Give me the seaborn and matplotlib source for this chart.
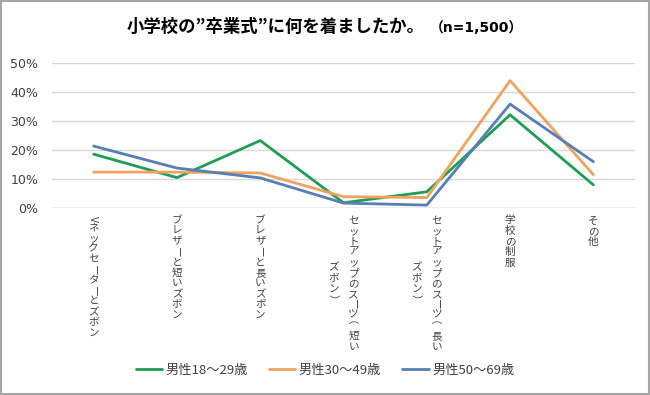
import textwrap
import numpy as np
import pandas as pd
import matplotlib
matplotlib.use("Agg")
import matplotlib.pyplot as plt
from matplotlib.patches import Rectangle
import seaborn as sns

# ---------------- data ----------------
categories = [
    "Vネックセーターとズボン",
    "ブレザーと短いズボン",
    "ブレザーと長いズボン",
    "セットアップのスーツ（短いズボン）",
    "セットアップのスーツ（長いズボン）",
    "学校の制服",
    "その他",
]
series_names = ["男性18～29歳", "男性30～49歳", "男性50～69歳"]
male_18_29 = [18.6, 10.5, 23.3, 1.8, 5.6, 32.2, 8.0]
male_30_49 = [12.4, 12.4, 12.1, 3.9, 3.6, 44.0, 11.5]
male_50_69 = [21.4, 13.8, 10.4, 1.7, 1.0, 35.9, 16.0]
y_ticks = [0, 10, 20, 30, 40, 50]
y_tick_labels = ["0%", "10%", "20%", "30%", "40%", "50%"]
title_main = "小学校の”卒業式”に何を着ましたか。"
title_sub = "（n=1,500）"

colors = ["#1E9E52", "#F0A25E", "#5580B6"]
FONTS = ["Noto Sans CJK JP", "DejaVu Sans"]
LATIN_FIRST = ["DejaVu Sans", "Noto Sans CJK JP"]

rows = []
for name, vals in zip(series_names, [male_18_29, male_30_49, male_50_69]):
    for c, v in zip(categories, vals):
        rows.append({"category": c, "value": v, "series": name})
df = pd.DataFrame(rows)

# ---------------- figure ----------------
sns.set_theme(style="white")
plt.rcParams["font.family"] = FONTS

fig = plt.figure(figsize=(6.5, 3.95), dpi=100)
W, H = 650, 395
ax = fig.add_axes([52 / W, 1 - 208 / H, (635 - 52) / W, (208 - 63.3) / H])

sns.lineplot(data=df, x="category", y="value", hue="series",
             hue_order=series_names, palette=colors, linewidth=2.0,
             sort=False, ax=ax, legend=True)

ax.set_ylim(0, 50)
ax.set_xlim(-0.5, len(categories) - 0.5)
ax.set_yticks(y_ticks)
ax.set_yticklabels(y_tick_labels, fontsize=9, color="#404040", family=LATIN_FIRST)
ax.set_xticks(range(len(categories)))
ax.set_xticklabels([])
ax.tick_params(axis="both", length=0)
ax.tick_params(axis="y", pad=10)
ax.set_xlabel("")
ax.set_ylabel("")
for s in ax.spines.values():
    s.set_visible(False)
ax.grid(axis="y", color="#D9D9D9", linewidth=1.0)
ax.grid(axis="x", visible=False)
ax.axhline(0, color="#BFBFBF", linewidth=1.0, zorder=1)

# vertical (tategaki) category labels
rot_chars = set("ー（）～V-")
rot_shift = {"（": 0.38 + 0.75}  # empirical glyph offset (in em)
fs = 7.6
step = 10.5 * 72 / 100  # points per char
col_gap = 20 * 72 / 100
top_pad = 12.5 * 72 / 100
for i, lab in enumerate(categories):
    cols = textwrap.wrap(lab, 13) if len(lab) > 13 else [lab]

    def col_len(c):
        return sum(0.7 if ch == "V" else 1.0 for ch in c)

    maxlen = max(col_len(c) for c in cols)
    ncol = len(cols)
    for j, col in enumerate(cols):
        dx = ((ncol - 1) / 2 - j) * col_gap
        pos = (maxlen - col_len(col)) / 2
        for ch in col:
            f = 0.7 if ch == "V" else 1.0
            dy = -(top_pad + (pos + f / 2 - 0.5) * step)
            if ch in rot_chars:
                sh = rot_shift.get(ch, 0.38)
                ax.annotate(ch, xy=(i, 0), xycoords=("data", "axes fraction"),
                            xytext=(dx - sh * fs, dy), textcoords="offset points",
                            ha="center", va="baseline", rotation=-90,
                            rotation_mode="anchor",
                            fontsize=fs, color="#404040", family=FONTS,
                            annotation_clip=False)
            else:
                ax.annotate(ch, xy=(i, 0), xycoords=("data", "axes fraction"),
                            xytext=(dx, dy), textcoords="offset points",
                            ha="center", va="center",
                            fontsize=fs, color="#404040", family=FONTS,
                            annotation_clip=False)
            pos += f

# legend
handles, labels = ax.get_legend_handles_labels()
ax.legend_.remove()
fig.legend(handles, labels, loc="center", bbox_to_anchor=(0.5, 1 - 370 / H),
           ncol=3, frameon=False, handlelength=2.0,
           handletextpad=0.25, columnspacing=1.6,
           prop={"family": FONTS, "size": 9.5})
for t in fig.legends[0].get_texts():
    t.set_color("#404040")

# title
t1 = fig.text(127 / W, 1 - 27 / H, title_main, ha="left", va="center",
              fontsize=12.5, fontweight="bold", color="#000000", family=FONTS)
fig.canvas.draw()
bb = t1.get_window_extent()
fig.text((bb.x1 + 5) / W, 1 - 27.5 / H, title_sub, ha="left", va="center",
         fontsize=10, fontweight="bold", color="#000000", family=LATIN_FIRST)

# outer frame
fig.patches.append(Rectangle((0.0015, 0.0025), 0.997, 0.995, transform=fig.transFigure,
                             fill=False, edgecolor="#A6A6A6", linewidth=1.5))

fig.savefig("out.png", dpi=100, facecolor="white")
